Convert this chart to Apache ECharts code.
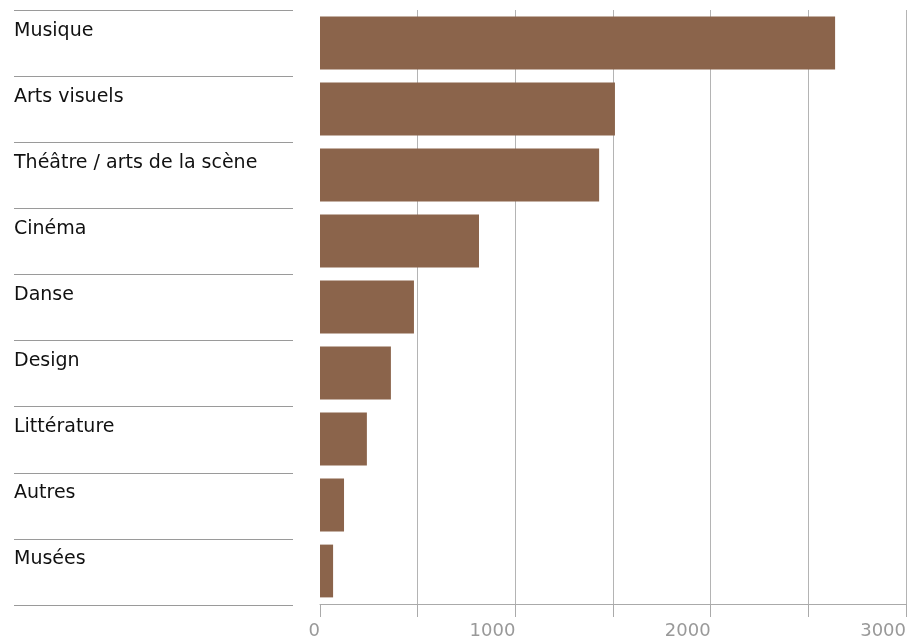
<!DOCTYPE html>
<html>
<head>
<meta charset="utf-8">
<script src="https://cdn.jsdelivr.net/npm/echarts@6/dist/echarts.min.js"></script>
<style>
html,body{margin:0;padding:0;background:#fff;}
#chart{width:910px;height:640px;}
</style>
</head>
<body>
<div id="chart"></div>
<script>
const categories = ["Musique", "Arts visuels", "Théâtre / arts de la scène", "Cinéma", "Danse", "Design", "Littérature", "Autres", "Musées"];
const values = [2637, 1510, 1429, 814, 481, 363, 240, 123, 67];
const axisMin = 0;
const axisMax = 3000;
const gridStep = 500;
const labelStep = 1000;

const FONT = 'DejaVu Sans, Liberation Sans, Arial, sans-serif';
const chart = echarts.init(document.getElementById('chart'), null, {renderer: 'canvas'});
chart.setOption({
  animation: false,
  backgroundColor: '#ffffff',
  grid: [
    {left: 320, right: 4, top: 10, bottom: 35, containLabel: false},
    {left: 14, width: 279, top: 10, bottom: 35, containLabel: false}
  ],
  xAxis: [{
    type: 'value',
    gridIndex: 0,
    min: axisMin,
    max: axisMax,
    interval: gridStep,
    axisLine: {show: true, lineStyle: {color: '#aaaaaa', width: 1}},
    axisTick: {show: true, length: 13, lineStyle: {color: '#aaaaaa', width: 1}},
    splitLine: {show: true, showMinLine: false, showMaxLine: true, lineStyle: {color: '#b4b4b4', width: 1}},
    axisLabel: {
      show: true,
      align: 'right',
      margin: 18,
      color: '#999999',
      fontFamily: FONT,
      fontSize: 18,
      showMinLabel: true,
      showMaxLabel: true,
      formatter: function (v) { return v % labelStep === 0 ? String(v) : ''; }
    }
  }, {
    type: 'value',
    gridIndex: 1,
    min: 0,
    max: 1,
    show: false
  }],
  yAxis: [{
    type: 'category',
    gridIndex: 0,
    data: categories,
    inverse: true,
    axisLine: {show: false},
    axisTick: {show: false},
    splitLine: {show: false},
    axisLabel: {
      show: true,
      align: 'left',
      verticalAlign: 'bottom',
      lineHeight: 23,
      margin: 306,
      color: '#111111',
      fontFamily: FONT,
      fontSize: 19
    }
  }, {
    type: 'category',
    gridIndex: 1,
    data: categories,
    inverse: true,
    axisLine: {show: false},
    axisTick: {show: false},
    axisLabel: {show: false},
    splitLine: {show: true, showMinLine: true, showMaxLine: true, lineStyle: {color: '#9a9a9a', width: 1}}
  }],
  series: [{
    type: 'bar',
    xAxisIndex: 0,
    yAxisIndex: 0,
    data: values,
    barCategoryGap: '20%',
    itemStyle: {color: '#8b644b'},
    silent: true
  }]
});
</script>
</body>
</html>
